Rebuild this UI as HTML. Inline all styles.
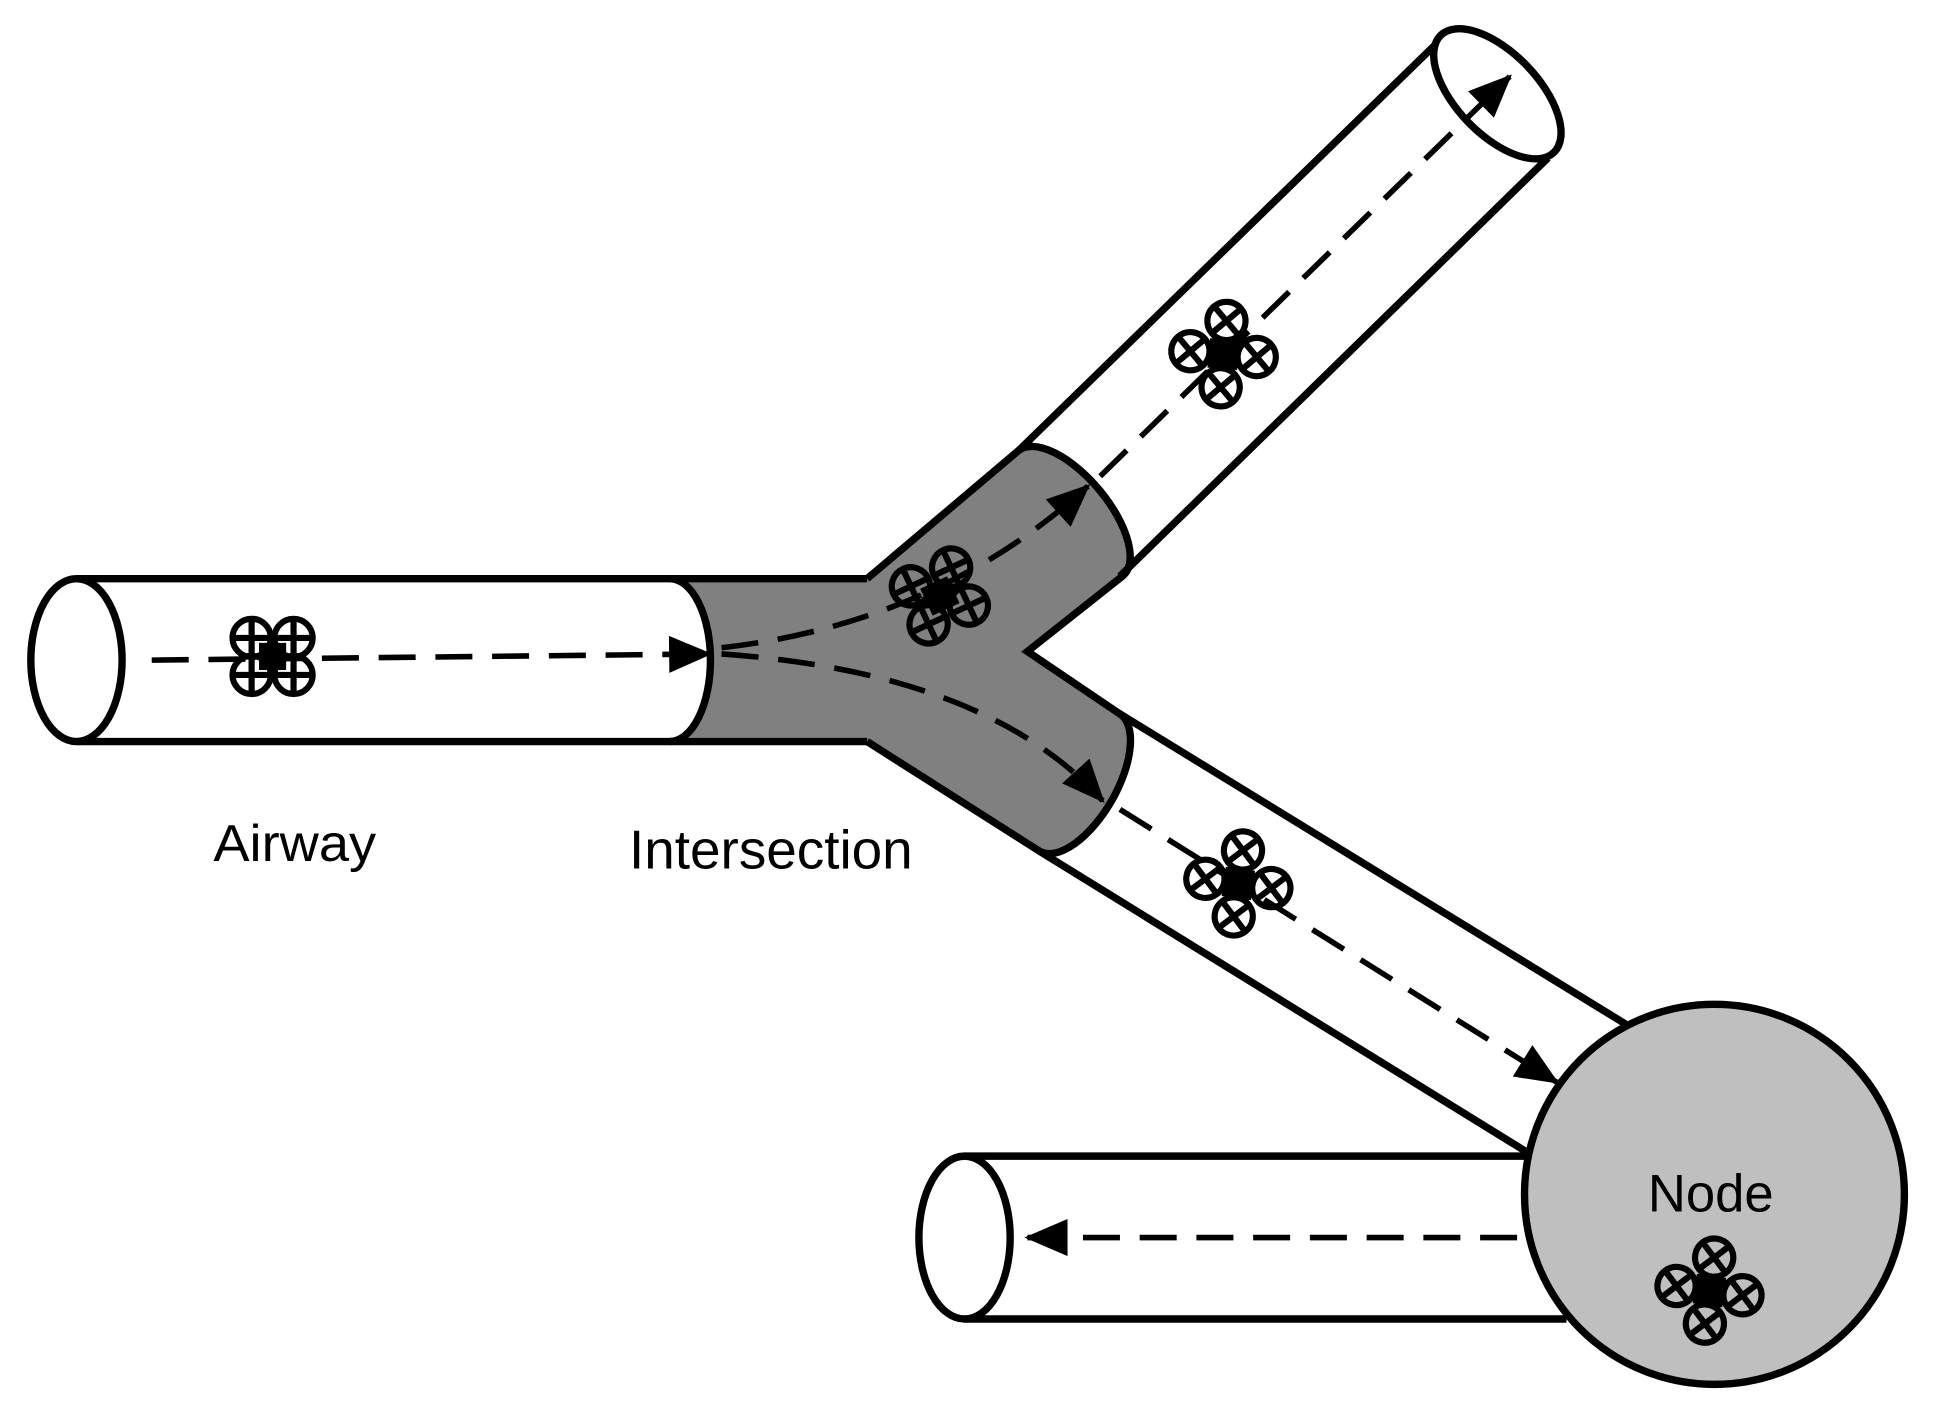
<!DOCTYPE html>
<html><head><meta charset="utf-8"><style>
html,body{margin:0;padding:0;background:#fff;}
svg{display:block;}
text{font-family:"Liberation Sans",sans-serif;fill:#000;}
</style></head>
<body>
<svg width="1934" height="1414" viewBox="0 0 1568 1146" preserveAspectRatio="none" xmlns="http://www.w3.org/2000/svg">
<defs>
<marker id="ah" viewBox="0 0 14 12" refX="13" refY="6" markerWidth="36" markerHeight="30" markerUnits="userSpaceOnUse" orient="auto">
<path d="M0,0 L14,6 L0,12 z" fill="#000"/>
</marker>
<g id="plus-rotor">
<circle r="15.5" fill="none" stroke="#000" stroke-width="5"/>
<path d="M-14,0H14M0,-14V14" stroke="#000" stroke-width="5"/>
</g>
<g id="x-rotor">
<circle r="15.5" fill="none" stroke="#000" stroke-width="5"/>
<path d="M-10,-10L10,10M10,-10L-10,10" stroke="#000" stroke-width="5"/>
</g>
<g id="x-drone">
<rect x="-12" y="-12" width="24" height="24" fill="#000"/>
<use href="#x-rotor" x="0" y="-27"/>
<use href="#x-rotor" x="-27" y="0"/>
<use href="#x-rotor" x="27" y="0"/>
<use href="#x-rotor" x="0" y="27"/>
</g>
</defs>

<path d="M543,469 L703,469 L826,365 L910,467 L833,528 L907,578 L843,690 L703,601 L543,601 A33,66 0 0 0 543,469 Z" fill="#808080"/>
<ellipse cx="868" cy="416" rx="30" ry="66" transform="rotate(-40 868 416)" fill="#808080"/>
<ellipse cx="875" cy="634" rx="30" ry="64" transform="rotate(30 875 634)" fill="#808080"/>
<path d="M703,469 L826,365 M910,467 L833,528 L907,578 M843,690 L703,601" stroke="#000" stroke-width="6" fill="none"/>
<path d="M826,365 A66,30 50 0 1 910,467" fill="none" stroke="#000" stroke-width="6"/>
<path d="M907,578 A64,30 120 0 1 843,690" fill="none" stroke="#000" stroke-width="6"/>

<g>
<path d="M62,469 H703 M62,601 H703" stroke="#000" stroke-width="6"/>
<ellipse cx="62" cy="535" rx="37" ry="66" fill="#fff" stroke="#000" stroke-width="6"/>
<path d="M543,469 A33,66 0 0 1 543,601" fill="none" stroke="#000" stroke-width="6"/>
</g>

<g>
<path d="M826,365 L1168,32 M908,467 L1255,128" stroke="#000" stroke-width="6"/>
<ellipse cx="1214" cy="76" rx="33" ry="66" transform="rotate(-44 1214 76)" fill="#fff" stroke="#000" stroke-width="6"/>
</g>

<g>
<path d="M907,578 L1318,830 M843,690 L1240,935" stroke="#000" stroke-width="6"/>
</g>

<g>
<path d="M782,937 H1250 M782,1069 H1270" stroke="#000" stroke-width="6"/>
<ellipse cx="782" cy="1003" rx="37" ry="66" fill="#fff" stroke="#000" stroke-width="6"/>
</g>

<circle cx="1390" cy="968" r="154" fill="#bfbfbf" stroke="#000" stroke-width="6"/>

<g fill="none" stroke="#000" stroke-width="4.5" stroke-dasharray="30,16">
<path d="M123,535 L575,530" marker-end="url(#ah)"/>
<path d="M585,525 Q760,505 882,394" marker-end="url(#ah)"/>
<path d="M892,386 L1224,62" marker-end="url(#ah)"/>
<path d="M585,530 Q800,545 894,649" marker-end="url(#ah)"/>
<path d="M908,656 L1262,877" marker-end="url(#ah)"/>
<path d="M1230,1003 L833,1003" marker-end="url(#ah)"/>
</g>

<g transform="translate(221,532)">
<rect x="-11" y="-11" width="22" height="22" fill="#000"/>
<use href="#plus-rotor" x="-17" y="-15"/>
<use href="#plus-rotor" x="17" y="-15"/>
<use href="#plus-rotor" x="-17" y="15"/>
<use href="#plus-rotor" x="17" y="15"/>
</g>
<g transform="translate(762,483) rotate(-25)">
<rect x="-12" y="-12" width="24" height="24" fill="#000"/>
<use href="#plus-rotor" x="-18" y="-17"/>
<use href="#plus-rotor" x="18" y="-17"/>
<use href="#plus-rotor" x="-18" y="17"/>
<use href="#plus-rotor" x="18" y="17"/>
</g>
<g transform="translate(992,287) rotate(5)"><use href="#x-drone"/></g>
<g transform="translate(1004,716) rotate(8)"><use href="#x-drone"/></g>
<g transform="translate(1386,1046) rotate(8)"><use href="#x-drone"/></g>

<text x="173" y="698" font-size="42" textLength="132" lengthAdjust="spacingAndGlyphs">Airway</text>
<text x="510" y="704" font-size="44" textLength="230" lengthAdjust="spacingAndGlyphs">Intersection</text>
<text x="1336" y="982" font-size="43" textLength="102" lengthAdjust="spacingAndGlyphs">Node</text>
</svg>
</body></html>
